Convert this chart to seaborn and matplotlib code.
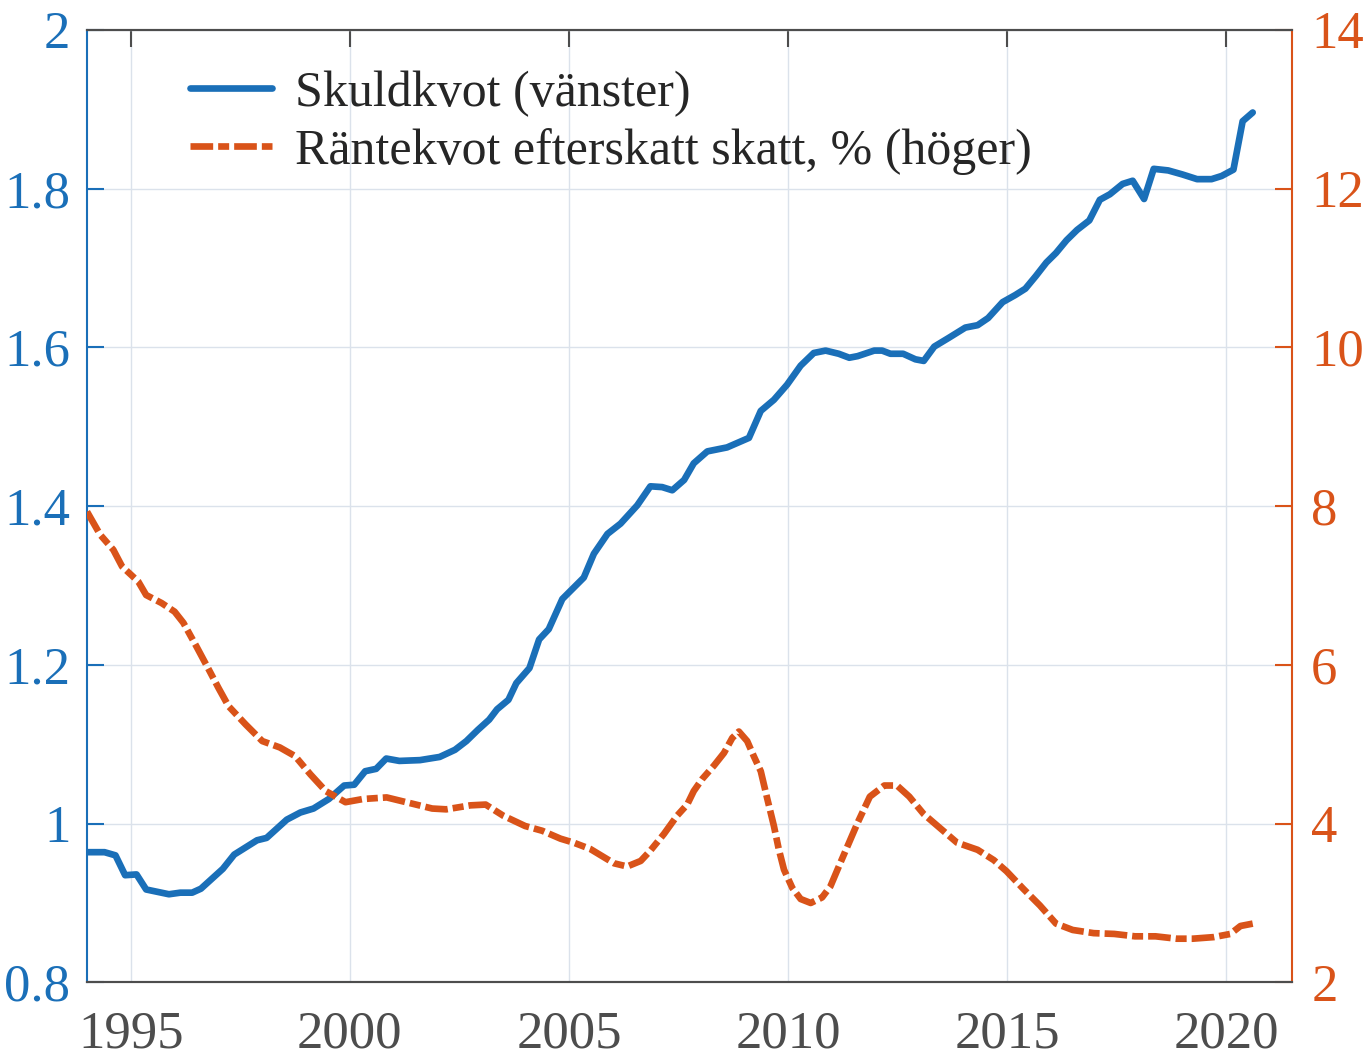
import numpy as np
import pandas as pd
import seaborn as sns
import matplotlib.pyplot as plt

# Skuldkvot (left axis)
skuld_year = [1994.0, 1994.4, 1994.65, 1994.87, 1995.13, 1995.35, 1995.87, 1996.13, 1996.4, 1996.6,
              1997.1, 1997.36, 1997.62, 1997.88, 1998.1, 1998.56, 1998.87, 1999.17, 1999.52, 1999.87,
              2000.1, 2000.35, 2000.6, 2000.83, 2001.13, 2001.6, 2002.05, 2002.4, 2002.66, 2002.92,
              2003.18, 2003.36, 2003.62, 2003.8, 2004.1, 2004.32, 2004.54, 2004.85, 2005.34, 2005.57,
              2005.88, 2006.18, 2006.56, 2006.86, 2007.13, 2007.36, 2007.63, 2007.85, 2008.16, 2008.61,
              2009.11, 2009.38, 2009.68, 2009.98, 2010.29, 2010.59, 2010.86, 2011.16, 2011.4, 2011.59,
              2011.97, 2012.15, 2012.34, 2012.63, 2012.91, 2013.1, 2013.34, 2013.67, 2014.05, 2014.33,
              2014.57, 2014.9, 2015.19, 2015.42, 2015.66, 2015.9, 2016.12, 2016.36, 2016.6, 2016.88,
              2017.12, 2017.35, 2017.64, 2017.87, 2018.13, 2018.35, 2018.68, 2019.0, 2019.34, 2019.67,
              2019.9, 2020.17, 2020.38, 2020.61]
skuld_val = [0.964, 0.964, 0.960, 0.935, 0.936, 0.917, 0.911, 0.913, 0.913, 0.918,
             0.943, 0.961, 0.970, 0.979, 0.982, 1.005, 1.014, 1.019, 1.031, 1.048,
             1.049, 1.066, 1.069, 1.082, 1.079, 1.080, 1.084, 1.093, 1.104, 1.118,
             1.131, 1.144, 1.156, 1.177, 1.196, 1.232, 1.245, 1.283, 1.310, 1.340,
             1.365, 1.378, 1.401, 1.425, 1.424, 1.420, 1.433, 1.454, 1.469, 1.474,
             1.486, 1.520, 1.534, 1.553, 1.577, 1.593, 1.596, 1.592, 1.587, 1.589,
             1.596, 1.596, 1.592, 1.592, 1.585, 1.583, 1.601, 1.612, 1.625, 1.628,
             1.637, 1.657, 1.666, 1.674, 1.690, 1.707, 1.719, 1.735, 1.748, 1.760,
             1.786, 1.793, 1.806, 1.810, 1.787, 1.825, 1.823, 1.818, 1.812, 1.812,
             1.816, 1.824, 1.885, 1.896]

# Räntekvot efter skatt, % (right axis)
rante_year = [1994.0, 1994.3, 1994.6, 1994.8, 1995.17, 1995.35, 1995.7, 1996.0, 1996.2, 1996.5,
              1996.8, 1997.0, 1997.23, 1997.62, 1998.0, 1998.4, 1998.75, 1999.1, 1999.45, 1999.9,
              2000.3, 2000.84, 2001.36, 2001.88, 2002.2, 2002.75, 2003.1, 2003.5, 2004.0, 2004.39,
              2004.81, 2005.11, 2005.49, 2005.76, 2006.03, 2006.33, 2006.64, 2006.86, 2007.17, 2007.47,
              2007.7, 2007.85, 2008.04, 2008.31, 2008.54, 2008.73, 2008.88, 2009.07, 2009.22, 2009.38,
              2009.53, 2009.68, 2009.79, 2009.91, 2010.1, 2010.29, 2010.52, 2010.78, 2010.97, 2011.2,
              2011.59, 2011.87, 2012.2, 2012.49, 2012.77, 2013.1, 2013.48, 2013.86, 2014.33, 2014.7,
              2014.99, 2015.37, 2015.75, 2016.12, 2016.5, 2016.98, 2017.45, 2017.92, 2018.39, 2018.87,
              2019.24, 2019.72, 2020.1, 2020.33, 2020.61]
rante_val = [7.93, 7.64, 7.45, 7.24, 7.05, 6.88, 6.78, 6.67, 6.53, 6.23,
             5.92, 5.71, 5.48, 5.25, 5.04, 4.96, 4.85, 4.62, 4.41, 4.27,
             4.31, 4.33, 4.26, 4.19, 4.18, 4.23, 4.24, 4.10, 3.97, 3.91,
             3.81, 3.76, 3.68, 3.59, 3.50, 3.46, 3.53, 3.66, 3.87, 4.10,
             4.24, 4.41, 4.56, 4.73, 4.89, 5.08, 5.16, 5.04, 4.85, 4.66,
             4.31, 3.97, 3.68, 3.42, 3.19, 3.05, 3.00, 3.07, 3.21, 3.51,
             4.01, 4.34, 4.48, 4.48, 4.34, 4.12, 3.94, 3.76, 3.67, 3.54,
             3.40, 3.18, 2.97, 2.74, 2.66, 2.62, 2.61, 2.58, 2.58, 2.55,
             2.55, 2.57, 2.61, 2.71, 2.74]

x_ticks = [1995, 2000, 2005, 2010, 2015, 2020]
left_ticks = [0.8, 1.0, 1.2, 1.4, 1.6, 1.8, 2.0]
left_labels = ["0.8", "1", "1.2", "1.4", "1.6", "1.8", "2"]
right_ticks = [2, 4, 6, 8, 10, 12, 14]
right_labels = ["2", "4", "6", "8", "10", "12", "14"]

BLUE = "#1a6fb8"
ORANGE = "#d95319"
GRAY = "#4d4d4d"

sns.set_style("white")
plt.rcParams['font.family'] = ['Liberation Serif', 'DejaVu Serif']

df1 = pd.DataFrame({"year": skuld_year, "val": skuld_val})
df2 = pd.DataFrame({"year": rante_year, "val": rante_val})

fig = plt.figure(figsize=(13.64, 10.62), dpi=100)
ax = fig.add_axes([0.0638, 0.075, 0.8832, 0.8968])
ax2 = ax.twinx()

sns.lineplot(data=df1, x="year", y="val", ax=ax, color=BLUE, linewidth=4.8,
             label="Skuldkvot (vänster)", legend=False)
sns.lineplot(data=df2, x="year", y="val", ax=ax2, color=ORANGE, linewidth=4.8,
             label="Räntekvot efterskatt skatt, % (höger)", legend=False)
ax2.lines[0].set_dashes([3.4, 0.75, 1.65, 0.75])

ax.set_xlim(1994, 2021.5)
ax.set_ylim(0.8, 2.0)
ax2.set_ylim(2, 14)
ax.set_xticks(x_ticks)
ax.set_xticklabels([str(t) for t in x_ticks])
ax.set_yticks(left_ticks)
ax.set_yticklabels(left_labels)
ax2.set_yticks(right_ticks)
ax2.set_yticklabels(right_labels)
ax.set_xlabel("")
ax.set_ylabel("")
ax2.set_ylabel("")

ax.grid(True, color="#dbe2eb", linewidth=1.0)
ax.set_axisbelow(True)

ax.tick_params(axis="x", direction="in", length=12, width=1.5, colors=GRAY,
               labelsize=38, pad=20, top=True, labelcolor=GRAY)
ax.tick_params(axis="y", direction="in", length=12, width=1.5, colors=BLUE,
               labelsize=38, pad=12)
ax2.tick_params(axis="y", direction="in", length=12, width=1.5, colors=ORANGE,
                labelsize=38, pad=14)

for a in (ax, ax2):
    a.spines["top"].set_color(GRAY)
    a.spines["bottom"].set_color(GRAY)
    a.spines["top"].set_linewidth(1.5)
    a.spines["bottom"].set_linewidth(1.5)
ax.spines["left"].set_color(BLUE)
ax2.spines["left"].set_visible(False)
ax.spines["right"].set_visible(False)
ax2.spines["right"].set_color(ORANGE)
ax.spines["left"].set_linewidth(1.5)
ax2.spines["right"].set_linewidth(1.5)

handles = ax.get_lines()[:1] + ax2.get_lines()[:1]
labels = [h.get_label() for h in handles]
ax2.legend(handles, labels, loc="upper left", bbox_to_anchor=(0.0855, 0.9575),
           frameon=False, fontsize=36, handlelength=1.64, handletextpad=0.46,
           labelspacing=0.22, borderpad=0, borderaxespad=0, labelcolor="#262626")

fig.savefig("out.png", dpi=100)
